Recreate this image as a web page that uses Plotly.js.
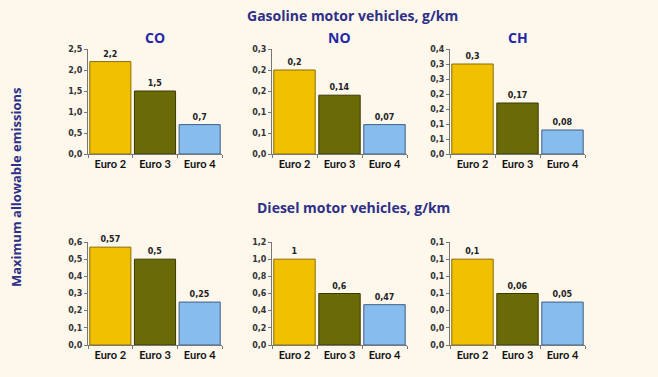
<!DOCTYPE html>
<html>
<head>
<meta charset="utf-8">
<script src="https://cdn.plot.ly/plotly-3.0.1.min.js"></script>
<style>html,body{margin:0;padding:0;background:#fdf7ec;}#chart{width:658px;height:377px;}</style>
</head>
<body>
<div id="chart"></div>
<script>
// ---- data ----
const categories = ['Euro 2', 'Euro 3', 'Euro 4'];
const gasCO = [2.2, 1.5, 0.7];
const gasNO = [0.2, 0.14, 0.07];
const gasCH = [0.3, 0.17, 0.08];
const dieselCO = [0.57, 0.5, 0.25];
const dieselNO = [1, 0.6, 0.47];
const dieselCH = [0.1, 0.06, 0.05];

const panelTitles = ['CO', 'NO', 'CH'];
const sectionTitles = ['Gasoline motor vehicles, g/km', 'Diesel motor vehicles, g/km'];
const yTitle = 'Maximum allowable emissions';

const gasCOTicks = [0, 0.5, 1, 1.5, 2, 2.5];
const gasCOTickText = ['0,0', '0,5', '1,0', '1,5', '2,0', '2,5'];
const gasNOTicks = [0, 0.05, 0.1, 0.15, 0.2, 0.25];
const gasNOTickText = ['0,0', '0,1', '0,1', '0,2', '0,2', '0,3'];
const gasCHTicks = [0, 0.05, 0.1, 0.15, 0.2, 0.25, 0.3, 0.35];
const gasCHTickText = ['0,0', '0,1', '0,1', '0,2', '0,2', '0,3', '0,3', '0,4'];
const dieselCOTicks = [0, 0.1, 0.2, 0.3, 0.4, 0.5, 0.6];
const dieselCOTickText = ['0,0', '0,1', '0,2', '0,3', '0,4', '0,5', '0,6'];
const dieselNOTicks = [0, 0.2, 0.4, 0.6, 0.8, 1.0, 1.2];
const dieselNOTickText = ['0,0', '0,2', '0,4', '0,6', '0,8', '1,0', '1,2'];
const dieselCHTicks = [0, 0.02, 0.04, 0.06, 0.08, 0.1, 0.12];
const dieselCHTickText = ['0,0', '0,0', '0,0', '0,1', '0,1', '0,1', '0,1'];

// ---- styling ----
const barColors = ['#f1c000', '#6a6a08', '#86bcee'];
const barLines = ['#8a6d00', '#3a3a05', '#3f5f85'];
const navy = '#2e2f86';

const panels = [
  {vals: gasCO, ticks: gasCOTicks, text: gasCOTickText},
  {vals: gasNO, ticks: gasNOTicks, text: gasNOTickText},
  {vals: gasCH, ticks: gasCHTicks, text: gasCHTickText},
  {vals: dieselCO, ticks: dieselCOTicks, text: dieselCOTickText},
  {vals: dieselNO, ticks: dieselNOTicks, text: dieselNOTickText},
  {vals: dieselCH, ticks: dieselCHTicks, text: dieselCHTickText}
];

const W = 658, H = 377;
const colPx = [[88, 222], [272, 407], [450, 585]];
const rowPx = [[49, 154], [242, 345]];

const fmt = v => String(v).replace('.', ',');

const data = [];
const layout = {
  width: W, height: H,
  margin: {l: 0, r: 0, t: 0, b: 0},
  paper_bgcolor: '#fdf7ec',
  plot_bgcolor: 'rgba(255,255,255,0)',
  showlegend: false,
  bargap: 0.08,
  font: {family: 'Lato, "DejaVu Sans", sans-serif', color: '#111'},
  annotations: []
};

panels.forEach((p, i) => {
  const r = Math.floor(i / 3), c = i % 3;
  const n = i + 1;
  const xa = 'x' + (n === 1 ? '' : n), ya = 'y' + (n === 1 ? '' : n);
  data.push({
    type: 'bar', x: categories, y: p.vals,
    xaxis: xa, yaxis: ya,
    marker: {color: barColors, line: {color: barLines, width: 1}},
    text: p.vals.map(fmt), textposition: 'outside', cliponaxis: false,
    textfont: {family: '"DejaVu Sans", sans-serif', size: 8, color: '#222', weight: 'bold'},
    hoverinfo: 'skip'
  });
  const xKey = 'xaxis' + (n === 1 ? '' : n), yKey = 'yaxis' + (n === 1 ? '' : n);
  layout[xKey] = {
    domain: [colPx[c][0] / W, colPx[c][1] / W],
    anchor: ya, type: 'category',
    showline: true, linecolor: '#777', linewidth: 1,
    ticks: 'outside', ticklen: 3, tickcolor: '#777', tickson: 'boundaries',
    tickfont: {family: 'Lato, sans-serif', size: 11, color: '#111', weight: 'bold'},
    showgrid: false, zeroline: false, fixedrange: true
  };
  layout[yKey] = {
    domain: [1 - rowPx[r][1] / H, 1 - rowPx[r][0] / H],
    anchor: xa,
    range: [0, p.ticks[p.ticks.length - 1]],
    tickmode: 'array', tickvals: p.ticks, ticktext: p.text,
    showline: true, linecolor: '#777', linewidth: 1,
    ticks: 'outside', ticklen: 3, tickcolor: '#777',
    tickfont: {family: '"DejaVu Sans", sans-serif', size: 8, color: '#333', weight: 'bold'},
    showgrid: false, zeroline: false, fixedrange: true
  };
  if (r === 0) {
    layout.annotations.push({
      text: panelTitles[c], xref: 'paper', yref: 'paper',
      x: (colPx[c][0] + colPx[c][1]) / 2 / W, y: 1 - 37 / H,
      showarrow: false, xanchor: 'center', yanchor: 'middle',
      font: {family: '"Open Sans", sans-serif', size: 14, color: '#2626a6', weight: 'bold'}
    });
  }
});

layout.annotations.push({
  text: sectionTitles[0], xref: 'paper', yref: 'paper',
  x: 352 / W, y: 1 - 16 / H, showarrow: false, xanchor: 'center', yanchor: 'middle',
  font: {family: '"Open Sans", sans-serif', size: 14, color: navy, weight: 'bold'}
});
layout.annotations.push({
  text: sectionTitles[1], xref: 'paper', yref: 'paper',
  x: 353 / W, y: 1 - 207 / H, showarrow: false, xanchor: 'center', yanchor: 'middle',
  font: {family: '"Open Sans", sans-serif', size: 14, color: navy, weight: 'bold'}
});
layout.annotations.push({
  text: yTitle, xref: 'paper', yref: 'paper',
  x: 16 / W, y: 1 - 188 / H, showarrow: false, textangle: -90,
  xanchor: 'center', yanchor: 'middle',
  font: {family: '"Open Sans", sans-serif', size: 13, color: navy, weight: 'bold'}
});

Plotly.newPlot('chart', data, layout, {displayModeBar: false, staticPlot: true});
</script>
</body>
</html>
